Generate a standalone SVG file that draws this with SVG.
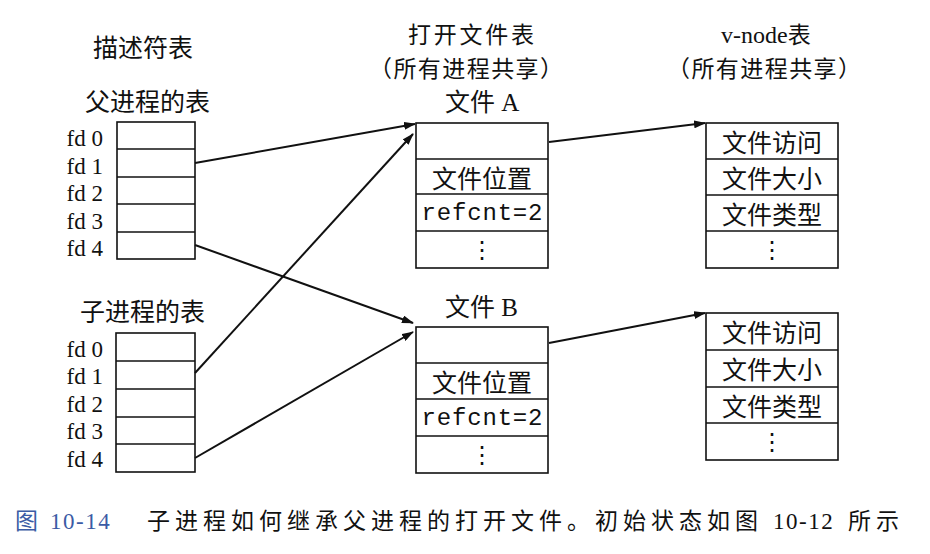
<svg xmlns="http://www.w3.org/2000/svg" width="930" height="554" viewBox="0 0 930 554">
<defs>
<style>
.box{fill:none;stroke:#111;stroke-width:1.6}
.sep{stroke:#111;stroke-width:1.4}
.cn{font-family:"Noto Sans CJK SC","Noto Sans",sans-serif;font-size:25px;fill:#111}
.ttl{font-family:"Noto Sans CJK SC","Noto Sans",sans-serif;font-size:23px;fill:#111}
.cell{font-family:"Noto Sans CJK SC","Noto Sans",sans-serif;font-size:25px;fill:#111;text-anchor:middle;dominant-baseline:central}
.fd{font-family:"Liberation Serif",serif;font-size:23px;fill:#111;text-anchor:end}
.mono{font-family:"Liberation Mono",monospace;font-size:24px;fill:#111;text-anchor:middle;dominant-baseline:central}
.dots{font-family:"DejaVu Sans",sans-serif;font-size:24px;fill:#111;text-anchor:middle;dominant-baseline:central}
.serif{font-family:"Liberation Serif",serif}
.conn{stroke:#111;stroke-width:2;fill:none;marker-end:url(#ah)}
.cap{font-family:"Noto Sans CJK SC","Noto Sans",sans-serif;font-size:23px;fill:#111;letter-spacing:5px}
</style>
<marker id="ah" viewBox="0 0 12 8" refX="11" refY="4" markerWidth="12" markerHeight="8" markerUnits="userSpaceOnUse" orient="auto">
<path d="M0,0 L12,4 L0,8 Z" fill="#111"/>
</marker>
</defs>
<rect width="930" height="554" fill="#fff"/>

<g id="titles">
<text class="cn" x="93" y="57">描述符表</text>
<text class="ttl" x="408" y="43" textLength="126">打开文件表</text>
<text class="ttl" x="369" y="77" textLength="194">（所有进程共享）</text>
<text class="ttl" x="721" y="43"><tspan class="serif" style="font-size:24px">v-node</tspan>表</text>
<text class="ttl" x="667" y="77" textLength="194">（所有进程共享）</text>
</g>

<g id="parent-table">
<text class="cn" x="85" y="111">父进程的表</text>
<rect class="box" x="117" y="122" width="78" height="137"/>
<line class="sep" x1="117" y1="149" x2="195" y2="149"/>
<line class="sep" x1="117" y1="177" x2="195" y2="177"/>
<line class="sep" x1="117" y1="204" x2="195" y2="204"/>
<line class="sep" x1="117" y1="232" x2="195" y2="232"/>
<text class="fd" x="103" y="146">fd 0</text>
<text class="fd" x="103" y="174">fd 1</text>
<text class="fd" x="103" y="201">fd 2</text>
<text class="fd" x="103" y="229">fd 3</text>
<text class="fd" x="103" y="256">fd 4</text>
</g>

<g id="child-table">
<text class="cn" x="80" y="321">子进程的表</text>
<rect class="box" x="116" y="333" width="79" height="139"/>
<line class="sep" x1="116" y1="361" x2="195" y2="361"/>
<line class="sep" x1="116" y1="389" x2="195" y2="389"/>
<line class="sep" x1="116" y1="417" x2="195" y2="417"/>
<line class="sep" x1="116" y1="444" x2="195" y2="444"/>
<text class="fd" x="103" y="357">fd 0</text>
<text class="fd" x="103" y="384">fd 1</text>
<text class="fd" x="103" y="412">fd 2</text>
<text class="fd" x="103" y="439">fd 3</text>
<text class="fd" x="103" y="467">fd 4</text>
</g>

<g id="file-a">
<text class="cn" x="445" y="111">文件<tspan class="serif"> A</tspan></text>
<rect class="box" x="416" y="123" width="132" height="145"/>
<line class="sep" x1="416" y1="159" x2="548" y2="159"/>
<line class="sep" x1="416" y1="194" x2="548" y2="194"/>
<line class="sep" x1="416" y1="231" x2="548" y2="231"/>
<text class="cell" x="482" y="177">文件位置</text>
<text class="mono" x="482" y="213" textLength="121">refcnt=2</text>
<text class="dots" x="482" y="250">⋮</text>
</g>

<g id="file-b">
<text class="cn" x="445" y="316">文件<tspan class="serif"> B</tspan></text>
<rect class="box" x="416" y="327" width="132" height="146"/>
<line class="sep" x1="416" y1="363" x2="548" y2="363"/>
<line class="sep" x1="416" y1="399" x2="548" y2="399"/>
<line class="sep" x1="416" y1="436" x2="548" y2="436"/>
<text class="cell" x="482" y="381">文件位置</text>
<text class="mono" x="482" y="418" textLength="121">refcnt=2</text>
<text class="dots" x="482" y="455">⋮</text>
</g>

<g id="vnode-a">
<rect class="box" x="706" y="123" width="132" height="145"/>
<line class="sep" x1="706" y1="159" x2="838" y2="159"/>
<line class="sep" x1="706" y1="195" x2="838" y2="195"/>
<line class="sep" x1="706" y1="231" x2="838" y2="231"/>
<text class="cell" x="772" y="141">文件访问</text>
<text class="cell" x="772" y="177">文件大小</text>
<text class="cell" x="772" y="213">文件类型</text>
<text class="dots" x="772" y="250">⋮</text>
</g>

<g id="vnode-b">
<rect class="box" x="706" y="313" width="132" height="147"/>
<line class="sep" x1="706" y1="350" x2="838" y2="350"/>
<line class="sep" x1="706" y1="387" x2="838" y2="387"/>
<line class="sep" x1="706" y1="423" x2="838" y2="423"/>
<text class="cell" x="772" y="331">文件访问</text>
<text class="cell" x="772" y="368">文件大小</text>
<text class="cell" x="772" y="405">文件类型</text>
<text class="dots" x="772" y="442">⋮</text>
</g>

<g id="connectors">
<line class="conn" x1="195" y1="163" x2="415" y2="124"/>
<line class="conn" x1="195" y1="373" x2="413" y2="134"/>
<line class="conn" x1="195" y1="245" x2="413" y2="323"/>
<line class="conn" x1="195" y1="458" x2="413" y2="332"/>
<line class="conn" x1="549" y1="142" x2="705" y2="123"/>
<line class="conn" x1="549" y1="343" x2="705" y2="313"/>
</g>

<g id="caption">
<text x="15" y="529" style="font-family:'Noto Sans CJK SC',sans-serif;font-size:23px;fill:#3b5ba5">图<tspan x="50" class="serif" style="letter-spacing:1.5px">10-14</tspan></text>
<text class="cap" x="147" y="529">子进程如何继承父进程的打开文件。初始状态如图<tspan x="773" class="serif" style="letter-spacing:1.5px">10-12</tspan><tspan x="848">所示</tspan></text>
</g>
</svg>
